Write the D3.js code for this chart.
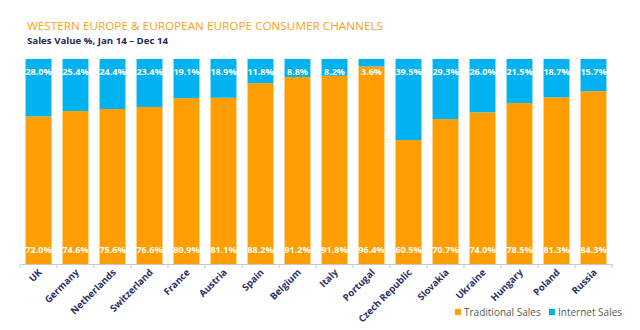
<!DOCTYPE html>
<html lang="en">
  <head>
    <meta charset="utf-8">
    <title>Consumer Channels</title>
    <style>
      body { margin: 0; background: #fff; }
      svg { display: block; font-family: "Open Sans", "DejaVu Sans", sans-serif; }
      .barlabel { fill: #fff; font-size: 9px; font-weight: bold; text-anchor: middle; }
    </style>
  </head>
  <body>
    <script src="https://d3js.org/d3.v7.min.js"></script>
    <script>
      const countries = ["UK", "Germany", "Netherlands", "Switzerland", "France", "Austria", "Spain", "Belgium",
        "Italy", "Portugal", "Czech Republic", "Slovakia", "Ukraine", "Hungary", "Poland", "Russia"]
      const traditional = [72.0, 74.6, 75.6, 76.6, 80.9, 81.1, 88.2, 91.2, 91.8, 96.4, 60.5, 70.7, 74.0, 78.5, 81.3, 84.3]
      const internet = [28.0, 25.4, 24.4, 23.4, 19.1, 18.9, 11.8, 8.8, 8.2, 3.6, 39.5, 29.3, 26.0, 21.5, 18.7, 15.7]
      const seriesNames = ["Traditional Sales", "Internet Sales"]
      const colors = ["#FF9E00", "#00B2F0"]

      const w = 640
      const h = 330
      const padLeft = 20, padRight = 612, padTop = 59, padBottom = 264

      const svg = d3.select("body").append("svg")
        .attr("width", w)
        .attr("height", h)

      // titles
      svg.append("text")
        .attr("x", 27).attr("y", 30)
        .attr("fill", "#F7A21B")
        .attr("font-size", "11.5px")
        .attr("textLength", 356).attr("lengthAdjust", "spacingAndGlyphs")
        .text("WESTERN EUROPE & EUROPEAN EUROPE CONSUMER CHANNELS")

      svg.append("text")
        .attr("x", 27).attr("y", 44)
        .attr("fill", "#1F2A55")
        .attr("font-size", "9.5px")
        .attr("font-weight", "bold")
        .attr("textLength", 141).attr("lengthAdjust", "spacingAndGlyphs")
        .text("Sales Value %, Jan 14 \u2013 Dec 14")

      const x = d3.scaleBand()
        .domain(countries)
        .range([padLeft, padRight])
        .paddingInner(0.3)
        .paddingOuter(0.15)

      const y = d3.scaleLinear()
        .domain([0, 100])
        .range([padBottom, padTop])

      const rows = countries.map((c, i) => ({ country: c, trad: traditional[i], net: internet[i] }))

      // traditional (bottom)
      svg.selectAll(".trad")
        .data(rows)
        .enter().append("rect")
        .attr("class", "trad")
        .attr("x", d => x(d.country))
        .attr("width", x.bandwidth())
        .attr("y", d => y(d.trad))
        .attr("height", d => y(0) - y(d.trad))
        .attr("fill", colors[0])

      // internet (top)
      svg.selectAll(".net")
        .data(rows)
        .enter().append("rect")
        .attr("class", "net")
        .attr("x", d => x(d.country))
        .attr("width", x.bandwidth())
        .attr("y", d => y(d.trad + d.net))
        .attr("height", d => y(d.trad) - y(d.trad + d.net))
        .attr("fill", colors[1])

      // labels
      svg.selectAll(".toplabel")
        .data(rows)
        .enter().append("text")
        .attr("class", "barlabel")
        .attr("x", d => x(d.country) + x.bandwidth() / 2)
        .attr("y", y(100) + 16)
        .text(d => d.net.toFixed(1) + "%")

      svg.selectAll(".botlabel")
        .data(rows)
        .enter().append("text")
        .attr("class", "barlabel")
        .attr("x", d => x(d.country) + x.bandwidth() / 2)
        .attr("y", y(0) - 11)
        .text(d => d.trad.toFixed(1) + "%")

      // axis
      const xAxis = d3.axisBottom(x).tickSize(0).tickFormat("")
      const ax = svg.append("g")
        .attr("transform", `translate(0, ${padBottom})`)
        .call(xAxis)
      ax.select(".domain").attr("stroke", "#C8C8C8")

      const step = x.step()
      const bounds = d3.range(countries.length + 1).map(i => padLeft + i * step)
      svg.selectAll(".tick-b")
        .data(bounds)
        .enter().append("line")
        .attr("x1", d => d).attr("x2", d => d)
        .attr("y1", padBottom).attr("y2", padBottom + 4)
        .attr("stroke", "#C8C8C8")

      svg.selectAll(".cat")
        .data(countries)
        .enter().append("text")
        .attr("transform", d => `translate(${x(d) + x.bandwidth() / 2 + 4}, ${padBottom + 9}) rotate(-45)`)
        .attr("text-anchor", "end")
        .attr("font-size", "9.5px")
        .attr("font-weight", "bold")
        .attr("fill", "#2B2F66")
        .text(d => d)

      // legend
      const lg = svg.append("g").attr("transform", "translate(455, 309)")
      const lx = [0, 94]
      seriesNames.forEach((s, i) => {
        lg.append("rect").attr("x", lx[i]).attr("y", 0).attr("width", 6).attr("height", 6).attr("fill", colors[i])
        lg.append("text").attr("x", lx[i] + 9).attr("y", 7)
          .attr("font-size", "10px").attr("fill", "#595959")
          .text(s)
      })
    </script>
  </body>
</html>
